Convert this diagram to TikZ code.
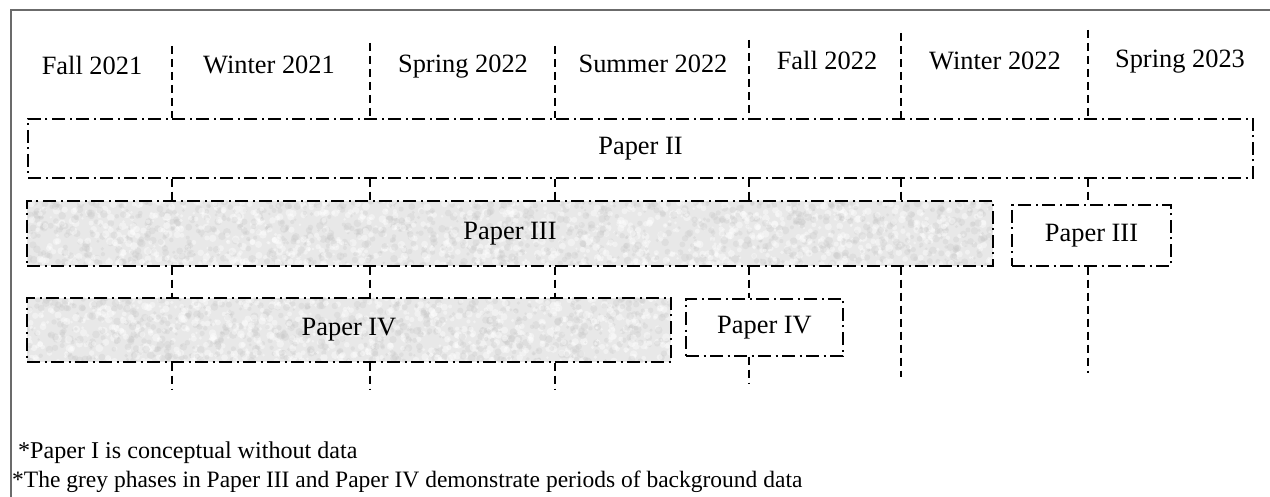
\documentclass[tikz,border=0pt]{standalone}
\usepackage{fontspec}
\setmainfont{Liberation Serif}
\usetikzlibrary{backgrounds}

% mottled grey texture inside a rectangle: x1 y1 x2 y2 count
\newcommand\mottle[5]{%
  \begin{scope}
    \clip (#1,#2) rectangle (#3,#4);
    \fill[black!9] (#1,#2) rectangle (#3,#4);
    \foreach \k in {1,...,#5}{%
      \pgfmathsetmacro\mx{#1+(#3-#1)*rnd}%
      \pgfmathsetmacro\my{#2+(#4-#2)*rnd}%
      \pgfmathsetmacro\mr{1.2+2.8*rnd}%
      \fill[black!22, opacity=0.3] (\mx,\my) circle[radius=\mr pt];
      \pgfmathsetmacro\mx{#1+(#3-#1)*rnd}%
      \pgfmathsetmacro\my{#2+(#4-#2)*rnd}%
      \pgfmathsetmacro\mr{1.2+2.8*rnd}%
      \fill[white, opacity=0.4] (\mx,\my) circle[radius=\mr pt];
    }
  \end{scope}}

\begin{document}
\begin{tikzpicture}[x=1pt, y=-1pt,
  hdr/.style={font=\fontsize{26.4}{30}\selectfont, anchor=base, inner sep=0pt},
  phase/.style={draw=black, line width=1.3pt,
    dash pattern=on 13pt off 4.5pt on 2pt off 4.5pt,
    inner sep=0pt, font=\fontsize{26.4}{30}\selectfont},
  link/.style={draw=black, line width=1.3pt, dash pattern=on 8pt off 5pt},
  frame/.style={draw=black!58, line width=2pt},
  note/.style={font=\fontsize{#1}{28}\selectfont, anchor=base west, inner sep=0pt},
  note/.default=23.5,
]
\useasboundingbox (0,0) rectangle (1270,497);
\pgfmathsetseed{4711}

% outer frame
\coordinate (fb) at (11,497);
\coordinate (fc) at (11,10);
\coordinate (fr) at (1270,10);
\draw[frame] (fb) -- (fc) -- (fr);

% season headings
\node[hdr] (s1) at (92,75)   {Fall 2021};
\node[hdr] (s2) at (269,74)  {Winter 2021};
\node[hdr] (s3) at (463,73)  {Spring 2022};
\node[hdr] (s4) at (653,73)  {Summer 2022};
\node[hdr] (s5) at (827,70)  {Fall 2022};
\node[hdr] (s6) at (995,70)  {Winter 2022};
\node[hdr] (s7) at (1180,68) {Spring 2023};

% phases
\node[phase, minimum width=1225pt, minimum height=59pt] (p2)  at (640.5,148.5) {Paper II};
\node[phase, minimum width=966pt,  minimum height=65pt] (p3a) at (510,233.5)   {Paper III};
\node[phase, minimum width=159pt,  minimum height=61pt] (p3b) at (1091.5,235.5) {Paper III};
\node[phase, minimum width=644pt,  minimum height=64pt] (p4a) at (349,330)     {Paper IV};
\node[phase, minimum width=157pt,  minimum height=57pt] (p4b) at (764.5,327.5) {Paper IV};

% grey phases carry background data
\begin{pgfonlayer}{background}
  \mottle{27}{201}{993}{266}{1100}
  \mottle{27}{298}{671}{362}{750}
\end{pgfonlayer}

% season boundaries
\coordinate (c1) at (172,46);
\coordinate (c2) at (370,43);
\coordinate (c3) at (555,46);
\coordinate (c4) at (749,40);
\coordinate (c5) at (901,33);
\coordinate (c6) at (1088,30);

\foreach \c in {c1,c2,c3,c4,c5,c6}
  \draw[link] (\c) -- (\c |- p2.north);

\foreach \c in {c1,c2,c3,c4,c5}
  \draw[link] (p2.south -| \c) -- (p3a.north -| \c);
\draw[link] (p2.south -| c6) -- (p3b.north -| c6);

\foreach \c in {c1,c2,c3}
  \draw[link] (p3a.south -| \c) -- (p4a.north -| \c);
\draw[link] (p3a.south -| c4) -- (p4b.north -| c4);

\coordinate (e5) at (901,377);
\coordinate (e6) at (1088,373);
\draw[link] (p3a.south -| e5) -- (e5);
\draw[link] (p3b.south -| e6) -- (e6);

\coordinate (e1) at (172,389);
\coordinate (e2) at (370,389);
\coordinate (e3) at (555,389);
\coordinate (e4) at (749,383);
\foreach \e in {e1,e2,e3}
  \draw[link] (p4a.south -| \e) -- (\e);
\draw[link] (p4b.south -| e4) -- (e4);

% notes
\node[note=24.1] (n1) at (18,458) {*Paper I is conceptual without data};
\node[note] (n2) at (12,487) {*The grey phases in Paper III and Paper IV demonstrate periods of background data};
\end{tikzpicture}
\end{document}
